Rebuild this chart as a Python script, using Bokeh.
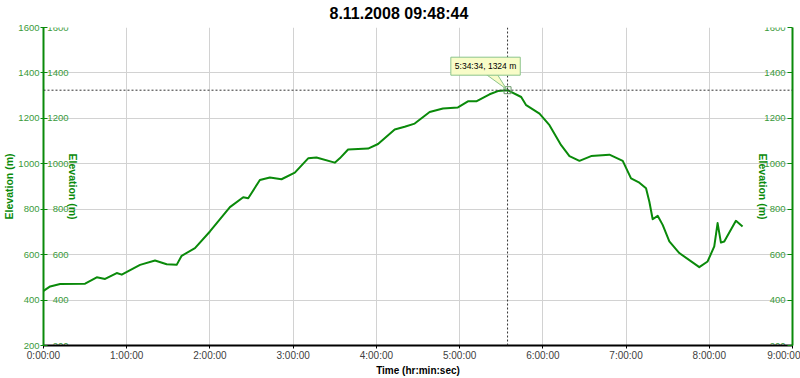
import math
from bokeh.plotting import figure
from bokeh.models import (Range1d, LinearAxis, FixedTicker, Span, Label)
from bokeh.core.properties import value
from bokeh.embed import file_html
from bokeh.resources import INLINE

# ---------------- data (time in hours, elevation in metres) ----------------
time_h = [0.00, 0.08, 0.20, 0.50, 0.64, 0.74, 0.88, 0.94, 1.16, 1.34, 1.48, 1.60,
          1.66, 1.82, 2.00, 2.24, 2.40, 2.46, 2.60, 2.72, 2.86, 3.02, 3.18, 3.28,
          3.50, 3.56, 3.66, 3.90, 4.02, 4.22, 4.34, 4.46, 4.64, 4.80, 4.98, 5.10,
          5.20, 5.36, 5.46, 5.576, 5.74, 5.80, 5.96, 6.08, 6.22, 6.32, 6.44, 6.58,
          6.80, 6.96, 7.06, 7.16, 7.24, 7.28, 7.32, 7.38, 7.44, 7.52, 7.64, 7.88,
          7.98, 8.06, 8.10, 8.14, 8.18, 8.32, 8.40]
elev_m = [440, 460, 471, 472, 500, 493, 519, 512, 555, 574, 558, 555,
          595, 629, 702, 809, 853, 848, 929, 940, 932, 961, 1024, 1028,
          1005, 1024, 1063, 1067, 1087, 1151, 1163, 1177, 1228, 1243, 1248, 1275,
          1275, 1306, 1320, 1324, 1294, 1258, 1221, 1170, 1082, 1034, 1013, 1034,
          1040, 1013, 936, 917, 892, 833, 756, 771, 731, 658, 607, 545,
          570, 636, 739, 653, 658, 749, 724]

x_ticks = [0, 1, 2, 3, 4, 5, 6, 7, 8, 9]
x_tick_labels = ["0:00:00", "1:00:00", "2:00:00", "3:00:00", "4:00:00",
                 "5:00:00", "6:00:00", "7:00:00", "8:00:00", "9:00:00"]
y_ticks = [200, 400, 600, 800, 1000, 1200, 1400, 1600]

peak_time_h = 5.576
peak_elev = 1324
peak_text = "5:34:34, 1324 m"
title_text = "8.11.2008 09:48:44"

# ---------------- styles ----------------
FONT = "Liberation Sans"
GREEN = "#0a8a0a"
GREEN_TXT = "#3a9a3a"
X0, X1, Y0, Y1 = 0, 9, 200, 1600
FRAME_W = 749
PXX = (X1 - X0) / FRAME_W   # hours per screen pixel
PXY = (Y1 - Y0) / 319.0     # metres per screen pixel

p = figure(width=800, height=378, output_backend="svg", toolbar_location=None,
           x_range=Range1d(X0, X1), y_range=Range1d(Y0, Y1),
           min_border_left=43, min_border_right=8, min_border_top=27,
           min_border_bottom=32)
p.outline_line_color = None
p.background_fill_color = "white"
p.border_fill_color = "white"

# title
p.title.text = title_text
p.title.text_font = FONT
p.title.text_font_size = "16px"
p.title.text_font_style = "bold"
p.title.text_color = "black"
p.title.align = "left"
p.title.offset = 286
p.title.standoff = 8
p.title.vertical_align = "top"

# grids
for g in (p.xgrid[0], p.ygrid[0]):
    g.grid_line_color = "#d2d2d2"
    g.grid_line_width = 1
p.xgrid[0].ticker = FixedTicker(ticks=x_ticks)
p.ygrid[0].ticker = FixedTicker(ticks=y_ticks)

# bottom axis
xa = p.xaxis[0]
xa.ticker = FixedTicker(ticks=x_ticks)
xa.major_label_overrides = {t: l for t, l in zip(x_ticks, x_tick_labels)}
xa.axis_line_color = "black"
xa.axis_line_width = 2
xa.major_tick_line_color = "black"
xa.major_tick_in = 0
xa.major_tick_out = 3
xa.minor_tick_line_color = None
xa.major_label_text_font = FONT
xa.major_label_text_font_size = "10px"
xa.major_label_text_color = "#404040"
xa.major_label_standoff = 1
xa.axis_label = "Time (hr:min:sec)"
xa.axis_label_text_font = FONT
xa.axis_label_text_font_size = "10px"
xa.axis_label_text_font_style = "bold"
xa.axis_label_text_color = "black"
xa.axis_label_standoff = 1

# left axis
ya = p.yaxis[0]
ya.ticker = FixedTicker(ticks=y_ticks)
ya.axis_line_color = GREEN
ya.axis_line_width = 2
ya.major_tick_line_color = GREEN
ya.major_tick_in = 4
ya.major_tick_out = 3
ya.minor_tick_line_color = None
ya.major_label_text_font = FONT
ya.major_label_text_font_size = "9.5px"
ya.major_label_text_color = GREEN_TXT
ya.major_label_standoff = 1
ya.axis_label = "Elevation (m)"
ya.axis_label_text_font = FONT
ya.axis_label_text_font_size = "10.5px"
ya.axis_label_text_font_style = "bold"
ya.axis_label_text_color = GREEN
ya.axis_label_standoff = 0

# right axis (its labels are drawn inside the plot)
ra = LinearAxis(ticker=FixedTicker(ticks=y_ticks))
ra.axis_line_color = GREEN
ra.axis_line_width = 2
ra.major_tick_line_color = GREEN
ra.major_tick_in = 5
ra.major_tick_out = 0
ra.minor_tick_line_color = None
ra.major_label_overrides = {t: " " for t in y_ticks}
ra.major_label_text_font_size = "1px"
ra.major_label_standoff = 0
p.add_layout(ra, "right")

# white strips behind the inner axis labels (glyphs, drawn over the grid)
p.quad(left=[X0 + 2 * PXX, 8.545], right=[0.28, X1],
       bottom=[Y0 + 3 * PXY, Y0], top=[Y1, Y1],
       fill_color="white", line_color=None, level="underlay")

# elevation line
p.line(time_h, elev_m, line_color=GREEN, line_width=2, line_join="round")

# inner tick labels (both anchored on the right edge; left set shifted across)
labels = [str(v) for v in y_ticks]
p.text(x=[X1] * len(y_ticks), y=y_ticks, text=labels, x_offset=-(FRAME_W - 25),
       text_align="right", text_baseline="middle", text_font=value(FONT),
       text_font_size="9.5px", text_color=GREEN_TXT)
p.text(x=[X1] * len(y_ticks), y=y_ticks, text=labels, x_offset=-7,
       text_align="right", text_baseline="middle", text_font=value(FONT),
       text_font_size="9.5px", text_color=GREEN_TXT)

ymid = (Y0 + Y1) / 2
for xx, off in ((X0, 29), (X1, -30)):
    p.add_layout(Label(x=xx, y=ymid, x_offset=off, text="Elevation (m)",
                       angle=-math.pi / 2, text_align="center",
                       text_baseline="middle", text_font=FONT,
                       text_font_size="10.5px", text_font_style="bold",
                       text_color=GREEN))

# crosshair
p.add_layout(Span(location=peak_time_h, dimension="height", line_color="#333333",
                  line_width=1, line_dash="2 2"))
p.add_layout(Span(location=peak_elev, dimension="width", line_color="#333333",
                  line_width=1, line_dash="2 2"))
p.scatter([peak_time_h], [peak_elev], marker="square", size=7,
          fill_color=None, line_color="#6a9a6a", line_width=1)

# callout pointer + box
p.patch([peak_time_h - 21 * PXX, peak_time_h - 10 * PXX, peak_time_h - 1 * PXX],
        [peak_elev + 15.5 * PXY, peak_elev + 15.5 * PXY, peak_elev + 1 * PXY],
        fill_color="#f8fcc8", line_color="#8cc48c", line_width=1)
p.add_layout(Label(x=peak_time_h, y=peak_elev, x_offset=-22, y_offset=24,
                   text=peak_text, text_align="center", text_baseline="middle",
                   text_font=FONT, text_font_size="8.5px", text_color="black",
                   background_fill_color="#f8fcc8", border_line_color="#8cc48c",
                   padding=4))

open("out.html", "w").write(file_html(p, INLINE))
